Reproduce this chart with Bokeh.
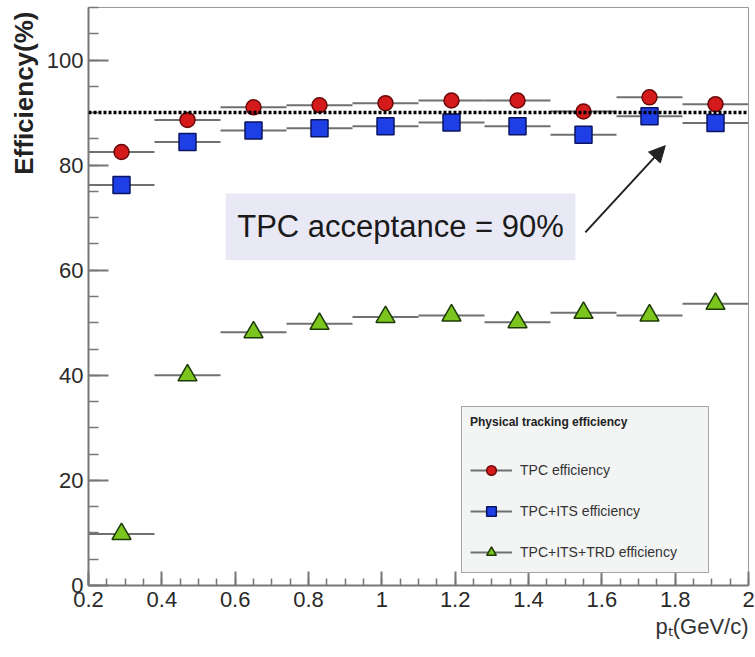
from bokeh.plotting import figure
from bokeh.models import (ColumnDataSource, Range1d, FixedTicker, CustomJSTickFormatter,
                          Span, BoxAnnotation, Label, Arrow, NormalHead, Legend, LegendItem,
                          Title)
from bokeh.embed import file_html
from bokeh.resources import INLINE

# ---- data ----
pt = [0.29, 0.47, 0.65, 0.83, 1.01, 1.19, 1.37, 1.55, 1.73, 1.91]
pt_err = [0.09, 0.09, 0.09, 0.09, 0.09, 0.09, 0.09, 0.09, 0.09, 0.09]
eff_tpc = [82.5, 88.6, 91.0, 91.4, 91.8, 92.3, 92.3, 90.2, 92.9, 91.6]
eff_tpc_its = [76.2, 84.4, 86.6, 87.0, 87.4, 88.1, 87.4, 85.8, 89.3, 88.0]
eff_tpc_its_trd = [9.8, 40.0, 48.2, 49.8, 51.1, 51.4, 50.1, 51.9, 51.4, 53.6]
acceptance = 90
x_ticks = [0.2, 0.4, 0.6, 0.8, 1.0, 1.2, 1.4, 1.6, 1.8, 2.0]
y_ticks = [0, 20, 40, 60, 80, 100]
series_labels = ["TPC efficiency", "TPC+ITS efficiency", "TPC+ITS+TRD efficiency"]

FONT = "Liberation Sans"

p = figure(width=755, height=657, x_range=Range1d(0.2, 2.0), y_range=Range1d(0, 110),
           output_backend="svg", toolbar_location=None,
           min_border_left=88, min_border_right=7, min_border_top=7, min_border_bottom=72)
p.xgrid.visible = False
p.ygrid.visible = False
p.outline_line_color = "#999999"
p.outline_line_width = 1
p.background_fill_color = "white"
p.border_fill_color = "white"

x_minor = [round(0.2 + 0.05 * i, 2) for i in range(37)]
y_minor = list(range(0, 111, 5))
p.xaxis.ticker = FixedTicker(ticks=x_ticks, minor_ticks=x_minor)
p.yaxis.ticker = FixedTicker(ticks=y_ticks, minor_ticks=y_minor)
p.xaxis.formatter = CustomJSTickFormatter(code="return (Math.round(tick*10)/10).toString();")

for ax in (p.xaxis[0], p.yaxis[0]):
    ax.axis_line_color = "#777777"
    ax.axis_line_width = 2
    ax.major_tick_line_color = "#777777"
    ax.minor_tick_line_color = "#777777"
    ax.major_tick_line_width = 2
    ax.minor_tick_line_width = 1.5
    ax.major_tick_out = 0
    ax.minor_tick_out = 0
    ax.major_label_text_font = FONT
    ax.major_label_text_font_size = "22px"
    ax.major_label_text_color = "#2a2a2a"
p.yaxis.major_tick_in = 20
p.yaxis.minor_tick_in = 10
p.yaxis.major_label_standoff = 5
p.xaxis.major_tick_in = 14
p.xaxis.minor_tick_in = 7
p.xaxis.major_label_standoff = 6

# acceptance line
p.add_layout(Span(location=acceptance, dimension="width", line_color="black",
                  line_width=3.5, line_dash="3 2"))

xl = [a - b for a, b in zip(pt, pt_err)]
xr = [a + b for a, b in zip(pt, pt_err)]

styles = [
    dict(marker="circle", size=15, fill_color="#d41a1a", line_color="#6a0808"),
    dict(marker="square", size=17, fill_color="#1f3fe6", line_color="#0a1460"),
    dict(marker="triangle", size=19, fill_color="#7cc41e", line_color="#1c3a06"),
]
items = []
for vals, st, lab in zip([eff_tpc, eff_tpc_its, eff_tpc_its_trd], styles, series_labels):
    src = ColumnDataSource(dict(x=pt, y=vals, xl=xl, xr=xr))
    seg = p.segment(x0="xl", x1="xr", y0="y", y1="y", source=src,
                    line_color="#707070", line_width=2)
    sc = p.scatter(x="x", y="y", source=src, line_width=1.5, **st)
    items.append(LegendItem(label=lab, renderers=[seg, sc]))

legend = Legend(items=items, location=(373, 12), title="Physical tracking efficiency",
                background_fill_color="#f3f4f4", background_fill_alpha=1,
                border_line_color="#555555", border_line_width=1.5,
                padding=8, spacing=17, margin=0,
                glyph_width=42, glyph_height=24, label_height=24, label_width=180,
                label_standoff=8, label_text_font=FONT, label_text_font_size="14px",
                label_text_color="#333333",
                title_text_font=FONT, title_text_font_style="bold",
                title_text_font_size="12px", title_text_color="#222222", title_standoff=29)
p.add_layout(legend)

# annotation box + arrow
p.add_layout(BoxAnnotation(left=0.574, right=1.528, bottom=61.9, top=74.6,
                           fill_color="#e9e9f6", fill_alpha=1, line_color=None))
p.add_layout(Label(x=1.051, y=68.3, text="TPC acceptance = 90%", text_align="center",
                   text_baseline="middle", text_font=FONT, text_font_size="31px",
                   text_color="#1a1a1a"))
p.add_layout(Arrow(x_start=1.555, y_start=67.2, x_end=1.773, y_end=83.7,
                   line_color="#222222", line_width=2,
                   end=NormalHead(size=16, fill_color="#222222", line_color="#222222")))

# axis titles (as side titles so they can be aligned to the ends, ROOT style)
p.add_layout(Title(text="Efficiency(%)", align="right", text_font=FONT,
                   text_font_style="bold", text_font_size="26px",
                   text_color="#222222", offset=4), "left")
p.add_layout(Title(text="pₜ(GeV/c)", align="right", text_font=FONT,
                   text_font_style="normal", text_font_size="22px",
                   text_color="#333333", standoff=4), "below")

open("out.html", "w").write(file_html(p, INLINE))
